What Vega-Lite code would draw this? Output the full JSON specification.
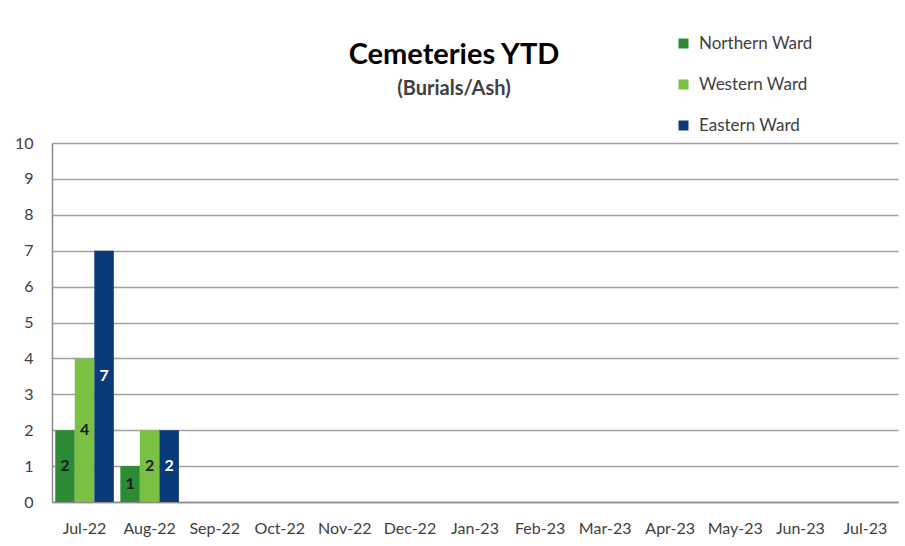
{
  "$schema": "https://vega.github.io/schema/vega-lite/v6.json",
  "width": 846,
  "height": 359,
  "autosize": {"type": "none"},
  "padding": {"left": 52, "top": 143, "right": 7, "bottom": 44},
  "background": "white",
  "config": {"font": "Lato", "view": {"stroke": null}},
  "title": {
    "text": "Cemeteries YTD",
    "subtitle": "(Burials/Ash)",
    "fontSize": 29,
    "fontWeight": "bold",
    "color": "#000000",
    "subtitleFontSize": 20,
    "subtitleFontWeight": "bold",
    "subtitleColor": "#404040",
    "subtitlePadding": 9,
    "anchor": "middle",
    "frame": "group",
    "dx": -21,
    "offset": -64
  },
  "data": {
    "values": [
      {"month": "Jul-22", "ward": "Northern Ward", "count": 2},
      {"month": "Jul-22", "ward": "Western Ward", "count": 4},
      {"month": "Jul-22", "ward": "Eastern Ward", "count": 7},
      {"month": "Aug-22", "ward": "Northern Ward", "count": 1},
      {"month": "Aug-22", "ward": "Western Ward", "count": 2},
      {"month": "Aug-22", "ward": "Eastern Ward", "count": 2}
    ]
  },
  "transform": [{"calculate": "datum.count / 2", "as": "mid"}],
  "encoding": {
    "x": {
      "field": "month",
      "type": "nominal",
      "sort": null,
      "scale": {
        "domain": ["Jul-22", "Aug-22", "Sep-22", "Oct-22", "Nov-22", "Dec-22", "Jan-23", "Feb-23", "Mar-23", "Apr-23", "May-23", "Jun-23", "Jul-23"],
        "paddingInner": 0.1,
        "paddingOuter": 0.05
      },
      "axis": {
        "title": null,
        "labelAngle": 0,
        "labelFontSize": 16,
        "labelColor": "#404040",
        "labelPadding": 18,
        "ticks": false,
        "domainColor": "#8c8c8c",
        "domainWidth": 1.5,
        "grid": false
      }
    },
    "xOffset": {
      "field": "ward",
      "type": "nominal",
      "sort": null,
      "scale": {"domain": ["Northern Ward", "Western Ward", "Eastern Ward"], "paddingInner": 0, "paddingOuter": 0}
    },
    "y": {
      "field": "count",
      "type": "quantitative",
      "scale": {"domain": [0, 10], "nice": false},
      "axis": {
        "title": null,
        "values": [0, 1, 2, 3, 4, 5, 6, 7, 8, 9, 10],
        "labelFontSize": 16,
        "labelColor": "#404040",
        "labelPadding": 19,
        "ticks": false,
        "grid": true,
        "gridColor": "#a0a0a0",
        "gridWidth": 1.5,
        "domainColor": "#8c8c8c",
        "domainWidth": 1.5
      }
    }
  },
  "layer": [
    {
      "mark": {"type": "bar"},
      "encoding": {
        "color": {
          "field": "ward",
          "type": "nominal",
          "scale": {
            "domain": ["Northern Ward", "Western Ward", "Eastern Ward"],
            "range": ["#2e8b35", "#7ac143", "#0a3a7a"]
          },
          "legend": {
            "title": null,
            "orient": "none",
            "legendX": 623,
            "legendY": -108,
            "direction": "vertical",
            "symbolType": "square",
            "symbolSize": 100,
            "symbolStrokeWidth": 0,
            "labelFontSize": 17,
            "labelColor": "#404040",
            "labelOffset": 7,
            "rowPadding": 23,
            "padding": 0
          }
        }
      }
    },
    {
      "mark": {"type": "text", "fontWeight": "bold", "fontSize": 16, "baseline": "middle"},
      "encoding": {
        "y": {"field": "mid", "type": "quantitative"},
        "text": {"field": "count", "type": "quantitative"},
        "color": {
          "condition": {"test": "datum.ward === 'Eastern Ward'", "value": "#ffffff"},
          "value": "#1a1a1a"
        }
      }
    }
  ]
}
